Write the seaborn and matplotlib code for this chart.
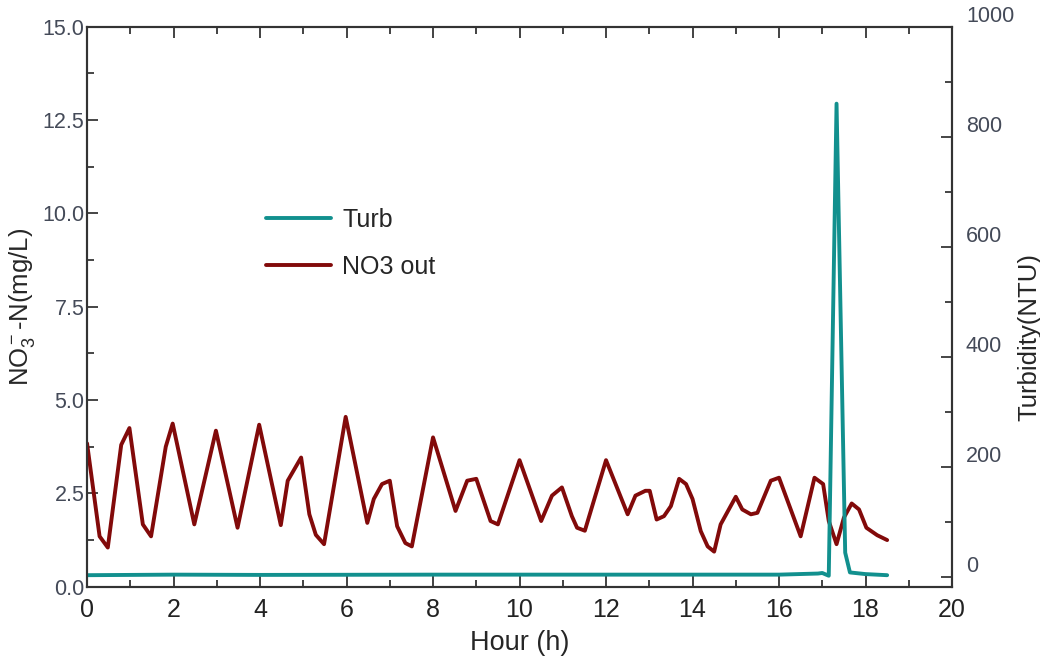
import seaborn as sns
import pandas as pd
import matplotlib.pyplot as plt
from matplotlib.ticker import MultipleLocator

# NO3 outlet concentration (mg/L)
hours_no3 = [0, 0.29, 0.48, 0.79, 0.98, 1.29, 1.48, 1.82, 1.98, 2.48,
             2.98, 3.48, 3.98, 4.48, 4.64, 4.95, 5.14, 5.29, 5.48, 5.98,
             6.48, 6.63, 6.82, 7.0, 7.17, 7.36, 7.51, 8.0, 8.52, 8.79,
             9.0, 9.33, 9.5, 10.0, 10.5, 10.75, 10.98, 11.21, 11.33, 11.51,
             12.0, 12.5, 12.68, 12.91, 13.01, 13.17, 13.34, 13.5, 13.69, 13.85,
             14.0, 14.19, 14.35, 14.5, 14.65, 15.0, 15.15, 15.35, 15.5, 15.81,
             16.0, 16.5, 16.82, 17.02, 17.15, 17.33, 17.5, 17.68, 17.85, 18.02,
             18.27, 18.5]
no3_out = [3.84, 1.35, 1.05, 3.80, 4.25, 1.67, 1.35, 3.75, 4.37, 1.67,
           4.18, 1.58, 4.34, 1.65, 2.84, 3.46, 1.94, 1.39, 1.14, 4.55,
           1.71, 2.35, 2.75, 2.84, 1.62, 1.17, 1.08, 4.0, 2.03, 2.84,
           2.89, 1.76, 1.67, 3.39, 1.76, 2.44, 2.66, 1.89, 1.58, 1.50,
           3.39, 1.94, 2.44, 2.57, 2.57, 1.80, 1.89, 2.16, 2.89, 2.75,
           2.35, 1.49, 1.08, 0.94, 1.67, 2.41, 2.07, 1.94, 1.98, 2.84,
           2.92, 1.35, 2.92, 2.75, 1.76, 1.14, 1.85, 2.23, 2.07, 1.58,
           1.38, 1.25]

# Turbidity (NTU)
hours_turb = [0, 2, 4, 8, 12, 16, 16.9, 17.0, 17.15, 17.33, 17.53, 17.64, 18.0, 18.5]
turb = [3, 4, 3.5, 4, 4, 4, 6, 7, 2, 860, 44, 8, 5, 3]

no3_color = '#820a0a'
turb_color = '#12908e'

df_no3 = pd.DataFrame({'hour': hours_no3, 'no3': no3_out})
df_turb = pd.DataFrame({'hour': hours_turb, 'turb': turb})

sns.set_style('white')
plt.rcParams['font.family'] = ['Liberation Sans', 'DejaVu Sans']
plt.rcParams['mathtext.fontset'] = 'custom'
plt.rcParams['mathtext.rm'] = 'Liberation Sans'
plt.rcParams['mathtext.it'] = 'Liberation Sans'

fig = plt.figure(figsize=(10.4, 6.66), dpi=100)
ax1 = fig.add_axes([0.0837, 0.119, 0.8317, 0.841])
ax2 = ax1.twinx()

sns.lineplot(data=df_no3, x='hour', y='no3', ax=ax1, color=no3_color,
             linewidth=2.8, estimator=None, sort=False, label='NO3 out',
             legend=False)
sns.lineplot(data=df_turb, x='hour', y='turb', ax=ax2, color=turb_color,
             linewidth=2.8, estimator=None, sort=False, label='Turb',
             legend=False)

ax1.set_xlim(0, 20)
ax1.set_ylim(0, 15)
ax2.set_ylim(-18, 1000)

ax1.xaxis.set_major_locator(MultipleLocator(2))
ax1.xaxis.set_minor_locator(MultipleLocator(1))
ax1.yaxis.set_major_locator(MultipleLocator(2.5))
ax1.yaxis.set_minor_locator(MultipleLocator(1.25))
ax2.yaxis.set_major_locator(MultipleLocator(200))
ax2.yaxis.set_minor_locator(MultipleLocator(100))
ax1.yaxis.set_major_formatter(plt.FormatStrFormatter('%.1f'))

ax1.tick_params(axis='x', which='both', direction='in', top=True,
                bottom=True, labelsize=18, colors='#222222', pad=8)
ax1.tick_params(axis='x', which='major', length=8, width=1.2)
ax1.tick_params(axis='x', which='minor', length=5, width=1.2)
ax1.tick_params(axis='y', which='both', direction='in', left=True,
                right=False, labelsize=15.5, labelcolor='#444a58', pad=2)
ax1.tick_params(axis='y', which='major', length=8, width=1.2)
ax1.tick_params(axis='y', which='minor', length=5, width=1.2)
ax2.tick_params(axis='y', which='both', direction='in', right=True,
                labelsize=15.5, labelcolor='#444a58', pad=10)
ax2.tick_params(axis='y', which='major', length=8, width=1.2)
ax2.tick_params(axis='y', which='minor', length=5, width=1.2)
# right-hand labels sit a little above their ticks in the original
plt.setp(ax2.get_yticklabels(), va='bottom')

for ax in (ax1, ax2):
    for sp in ax.spines.values():
        sp.set_color('#333333')
        sp.set_linewidth(1.5)
        sp.set_visible(True)

ax1.set_xlabel('Hour (h)', fontsize=19.5, labelpad=6)
ax1.set_ylabel(r'NO$_3^-$-N(mg/L)', fontsize=18.5, labelpad=4)
ax2.set_ylabel('Turbidity(NTU)', fontsize=18.5)
ax2.yaxis.set_label_coords(1.076, 0.446)

h1, l1 = ax1.get_legend_handles_labels()
h2, l2 = ax2.get_legend_handles_labels()
ax2.legend(h2 + h1, l2 + l1, loc='upper left', bbox_to_anchor=(0.207, 0.676),
           frameon=False, fontsize=18, handlelength=2.6, labelspacing=0.9,
           handletextpad=0.45, borderpad=0, borderaxespad=0)

fig.savefig('out.png', dpi=100)
